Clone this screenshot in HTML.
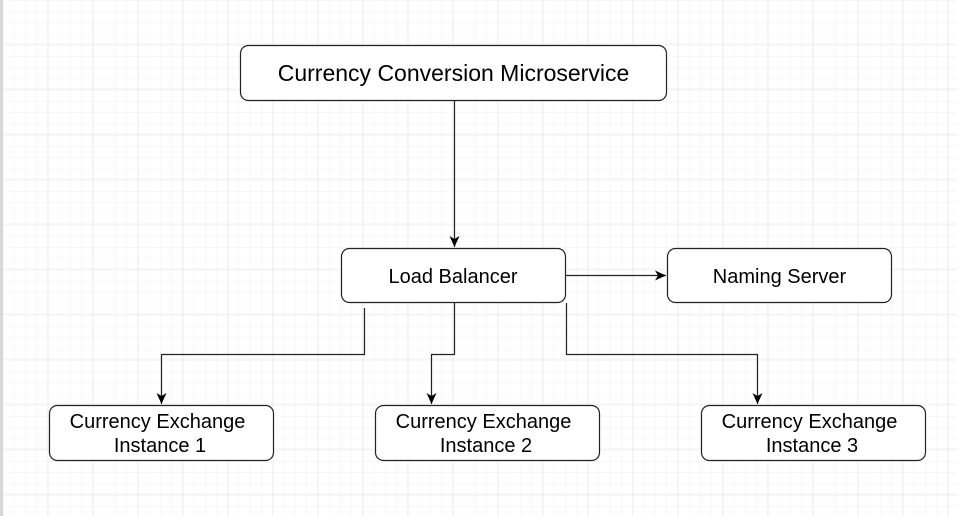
<!DOCTYPE html>
<html><head><style>
html,body{margin:0;padding:0;background:#fff;}
svg{display:block;}
text{font-family:"Liberation Sans",Arial,sans-serif;fill:#000;}
</style></head><body>
<svg width="957" height="516" viewBox="0 0 957 516" xmlns="http://www.w3.org/2000/svg">
<defs>
<pattern id="minor" x="3" y="0.5" width="11.25" height="11.25" patternUnits="userSpaceOnUse">
<path d="M11.25 0V11.25M0 11.25H11.25" stroke="#f0f0f0" stroke-width="1" fill="none"/>
</pattern>
<pattern id="major" x="3.3" y="-0.7" width="45" height="45" patternUnits="userSpaceOnUse">
<path d="M45 0V45M0 45H45" stroke="#e0e0e0" stroke-width="1" fill="none"/>
</pattern>
<marker id="ar" markerWidth="12" markerHeight="12" refX="11" refY="6" orient="auto" markerUnits="userSpaceOnUse">
<path d="M0,1 L11,6 L0,11 L3,6 Z" fill="#000"/>
</marker>
</defs>
<rect width="957" height="516" fill="#fff"/>
<rect width="957" height="516" fill="url(#minor)"/>
<rect width="957" height="516" fill="url(#major)"/>
<rect x="0" y="0" width="3" height="516" fill="#d8d8d8"/>
<g fill="#fff" stroke="#222" stroke-width="1.2">
<rect x="240.5" y="45.5" width="426" height="55" rx="8"/>
<rect x="341.5" y="248.5" width="224" height="54" rx="8"/>
<rect x="667.5" y="248.5" width="224" height="54" rx="8"/>
<rect x="49.5" y="405.5" width="224" height="55" rx="8"/>
<rect x="375.5" y="405.5" width="224" height="55" rx="8"/>
<rect x="701.5" y="405.5" width="224" height="55" rx="8"/>
</g>
<g fill="none" stroke="#222" stroke-width="1.2">
<path d="M454.5 101V247" marker-end="url(#ar)"/>
<path d="M566 275.5H666" marker-end="url(#ar)"/>
<path d="M364.5 308V354.5H161.5V404" marker-end="url(#ar)"/>
<path d="M454.5 303V354.5H431.5V404" marker-end="url(#ar)"/>
<path d="M566.5 303V354.5H757.5V404" marker-end="url(#ar)"/>
</g>
<g text-anchor="middle">
<text x="453.5" y="81" font-size="23">Currency Conversion Microservice</text>
<text x="453" y="283" font-size="20">Load Balancer</text>
<text x="779.5" y="283" font-size="20">Naming Server</text>
<text x="157.5" y="428" font-size="20">Currency Exchange</text>
<text x="160" y="452" font-size="20">Instance 1</text>
<text x="483.5" y="428" font-size="20">Currency Exchange</text>
<text x="486" y="452" font-size="20">Instance 2</text>
<text x="809.5" y="428" font-size="20">Currency Exchange</text>
<text x="812" y="452" font-size="20">Instance 3</text>
</g>
</svg>
</body></html>
